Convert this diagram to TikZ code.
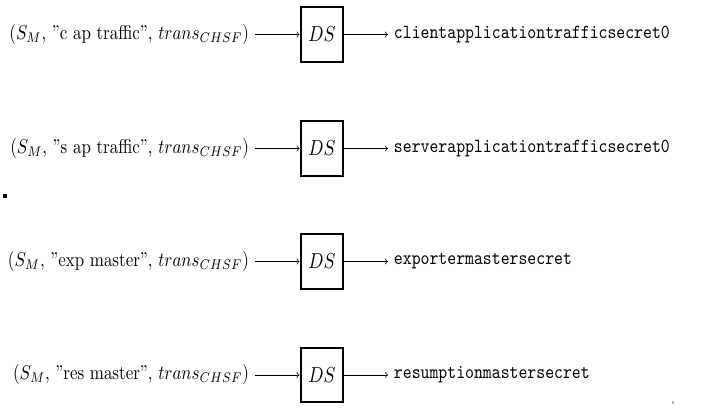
\documentclass[tikz,border=0pt]{standalone}
\usetikzlibrary{arrows}
\newcommand{\vstretch}[1]{\scalebox{1}[1.18]{#1}}
\begin{document}
\begin{tikzpicture}[x=0.59pt,y=-0.59pt,
  dsbox/.style={draw,line width=1.2pt,inner sep=0pt,minimum width=25.2pt,minimum height=32.4pt},
  inlabel/.style={anchor=east},
  outlabel/.style={anchor=west,font=\ttfamily},
  flow/.style={->,line width=0.4pt}]
\useasboundingbox (0,0) rectangle (703,410);
\foreach \i/\y/\lab/\out in {1/34.5/c ap traffic/clientapplicationtrafficsecret0,
                              2/148.5/s ap traffic/serverapplicationtrafficsecret0,
                              3/261.5/exp master/exportermastersecret,
                              4/375/res master/resumptionmastersecret}{
  \node[dsbox] (ds\i) at (322,\y) {\scalebox{1.05}[1.28]{$DS$}};
  \node[inlabel] (in\i) at (255,\y) {\vstretch{($S_M$, ''\lab'', $trans_{CHSF}$)}};
  \node[outlabel] (out\i) at (388,\y) {\vstretch{\out}};
  \draw[flow] (in\i.east) -- (ds\i.west);
  \draw[flow] (ds\i.east) -- (out\i.west);
}
\fill (3,194) rectangle (7,198);
\fill[gray!60] (672,401) rectangle (673.5,404);
\end{tikzpicture}
\end{document}
